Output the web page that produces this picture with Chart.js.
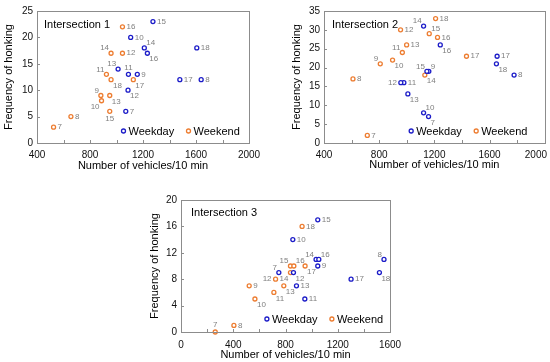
<!DOCTYPE html>
<html>
<head>
<meta charset="utf-8">
<script src="https://cdn.jsdelivr.net/npm/chart.js@4.4.1/dist/chart.umd.min.js"></script>
<style>
  body { margin: 0; background: #fff; width: 550px; height: 362px; position: relative; overflow: hidden; }
  canvas { position: absolute; }
</style>
</head>
<body>
<canvas id="c1" width="275" height="180" style="left:0;top:0"></canvas>
<canvas id="c2" width="275" height="180" style="left:275px;top:0"></canvas>
<canvas id="c3" width="290" height="182" style="left:130px;top:180px"></canvas>
<script>
// hour of day for every point (used as point labels)
const hours = [7, 8, 9, 10, 11, 12, 13, 14, 15, 16, 17, 18];

// Intersection 1
const int1WeekdayVehicles = [1070, 1639, 1157, 1107, 1090, 1087, 1012, 1210, 1275, 1233, 1478, 1606];
const int1WeekdayHonks    = [6, 12, 13, 20, 13, 10, 14, 18, 23, 17, 12, 18];
const int1WeekendVehicles = [525, 656, 882, 887, 924, 1045, 949, 959, 949, 1045, 1127, 959];
const int1WeekendHonks    = [3, 5, 9, 8, 13, 17, 9, 17, 6, 22, 12, 12];

// Intersection 2
const int2WeekdayVehicles = [1158, 1778, 1160, 1122, 979, 957, 1008, 1122, 1146, 1243, 1655, 1650];
const int2WeekdayHonks    = [7, 18, 19, 8, 16, 16, 13, 31, 19, 26, 23, 21];
const int2WeekendVehicles = [714, 610, 808, 897, 968, 955, 999, 1131, 1163, 1223, 1433, 1209];
const int2WeekendHonks    = [2, 17, 21, 22, 24, 30, 26, 18, 29, 28, 23, 33];

// Intersection 3
const int3WeekdayVehicles = [749, 1554, 1047, 856, 948, 861, 884, 1034, 1047, 1055, 1302, 1519];
const int3WeekdayHonks    = [9, 11, 10, 14, 5, 9, 7, 11, 17, 11, 8, 9];
const int3WeekendVehicles = [262, 405, 522, 566, 711, 724, 787, 838, 838, 864, 950, 927];
const int3WeekendHonks    = [0, 1, 7, 5, 6, 8, 7, 9, 10, 10, 10, 16];

// where each hour label sits relative to its marker
const int1WeekdayLabelAt = ['r','r','r','r','t','br','tl','tr','r','br','r','r'];
const int1WeekendLabelAt = ['r','r','tl','bl','tl','r','br','tl','b','r','br','br'];
const int2WeekdayLabelAt = ['br','r','tr','tr','r','l','br','tl','tl','br','r','br'];
const int2WeekendLabelAt = ['r','r','tl','br','tl','r','r','br','tr','r','r','r'];
const int3WeekdayLabelAt = ['tl','tl','r','r','r','br','r','tl','r','tr','r','br'];
const int3WeekendLabelAt = ['t','r','r','br','br','l','br','bl','tl','tr','br','r'];

const BLUE = '#1c1cc8';
const ORANGE = '#ed7d31';
const FRAME = '#8c8c8c';
const FONT = 'Liberation Sans, Arial, sans-serif';

function pts(xs, ys) {
  return xs.map((x, i) => ({ x: x, y: ys[i] }));
}

const panelPlugin = {
  id: 'panelBits',
  afterDatasetsDraw(chart) {
    const ctx = chart.ctx;
    const p = chart.options.plugins.panelBits;
    const a = chart.chartArea;
    const xs = chart.scales.x, ys = chart.scales.y;
    ctx.save();
    // frame
    ctx.strokeStyle = FRAME;
    ctx.lineWidth = 1;
    ctx.strokeRect(Math.round(a.left) + 0.5, Math.round(a.top) + 0.5,
      Math.round(a.right - a.left), Math.round(a.bottom - a.top));
    // inward tick marks
    ctx.beginPath();
    for (let v = p.xMin + p.xMinor; v < p.xMax; v += p.xMinor) {
      const px = Math.round(xs.getPixelForValue(v)) + 0.5;
      ctx.moveTo(px, a.bottom);
      ctx.lineTo(px, a.bottom - 3);
    }
    for (let v = p.yStep; v < p.yMax; v += p.yStep) {
      const py = Math.round(ys.getPixelForValue(v)) + 0.5;
      ctx.moveTo(a.left, py);
      ctx.lineTo(a.left + 3, py);
    }
    ctx.stroke();

    // last x label pulled inside the canvas when it would be cut off
    ctx.textBaseline = 'middle';
    if (p.lastLabelInside) {
      ctx.fillStyle = '#111';
      ctx.font = '10px ' + FONT;
      ctx.textAlign = 'right';
      ctx.fillText(String(p.xMax), chart.width - 3, a.bottom + p.xTickPad + 6);
    }

    // hour labels
    ctx.fillStyle = '#7f7f7f';
    ctx.font = '8px ' + FONT;
    chart.data.datasets.forEach((ds, di) => {
      const meta = chart.getDatasetMeta(di);
      meta.data.forEach((el, i) => {
        const where = ds.labelAt[i];
        let dx = 4, dy = 0, align = 'left';
        if (where === 'l') { dx = -4; align = 'right'; }
        if (where === 't') { dx = 0; dy = -7; align = 'center'; }
        if (where === 'b') { dx = 0; dy = 7; align = 'center'; }
        if (where === 'tl') { dx = -2; dy = -5; align = 'right'; }
        if (where === 'tr') { dx = 2; dy = -5; align = 'left'; }
        if (where === 'bl') { dx = -2; dy = 6; align = 'right'; }
        if (where === 'br') { dx = 2; dy = 6; align = 'left'; }
        ctx.textAlign = align;
        ctx.fillText(String(hours[i]), el.x + dx, el.y + dy);
      });
    });

    // panel title
    ctx.fillStyle = '#000';
    ctx.font = '11px ' + FONT;
    ctx.textAlign = 'left';
    ctx.fillText(p.title, a.left + p.titleDx, a.top + p.titleDy);

    // legend inside the plot
    const lx = a.left + p.legendFrac * (a.right - a.left);
    const ly = a.bottom - p.legendUp;
    [['Weekday', BLUE], ['Weekend', ORANGE]].forEach((item, k) => {
      const mx = lx + k * 65;
      ctx.beginPath();
      ctx.arc(mx, ly, 2, 0, Math.PI * 2);
      ctx.fillStyle = '#fff';
      ctx.fill();
      ctx.lineWidth = 1.3;
      ctx.strokeStyle = item[1];
      ctx.stroke();
      ctx.fillStyle = '#000';
      ctx.fillText(item[0], mx + 5, ly + 0.5);
    });
    ctx.restore();
  }
};

function makePanel(id, p) {
  const ctx = document.getElementById(id).getContext('2d');
  return new Chart(ctx, {
    type: 'scatter',
    data: {
      datasets: [
        {
          label: 'Weekday',
          data: pts(p.wdX, p.wdY),
          labelAt: p.wdAt,
          borderColor: BLUE,
          backgroundColor: '#fff',
          pointRadius: 2,
          pointBorderWidth: 1.3
        },
        {
          label: 'Weekend',
          data: pts(p.weX, p.weY),
          labelAt: p.weAt,
          borderColor: ORANGE,
          backgroundColor: '#fff',
          pointRadius: 2,
          pointBorderWidth: 1.3
        }
      ]
    },
    options: {
      responsive: false,
      animation: false,
      clip: false,
      layout: { padding: { top: p.padTop, right: p.padRight, left: 0, bottom: 0 } },
      plugins: {
        legend: { display: false },
        tooltip: { enabled: false },
        panelBits: p
      },
      scales: {
        x: {
          type: 'linear',
          min: p.xMin,
          max: p.xMax,
          afterFit: (s) => { s.height = p.xAxisH; s.paddingLeft = 0; s.paddingRight = 0; },
          grid: { display: false, drawTicks: false },
          border: { display: false },
          ticks: {
            stepSize: p.xStep, padding: p.xTickPad, color: '#111',
            font: { family: FONT, size: 10 }, maxRotation: 0,
            callback: (v) => (p.lastLabelInside && v === p.xMax) ? '' : String(v)
          },
          title: {
            display: true,
            text: 'Number of vehicles/10 min',
            color: '#000',
            font: { family: FONT, size: 11 },
            padding: { top: 0, bottom: p.xTitlePad }
          }
        },
        y: {
          type: 'linear',
          min: 0,
          max: p.yMax,
          afterFit: (s) => { s.width = p.yAxisW; s.paddingTop = 0; s.paddingBottom = 0; },
          grid: { display: false, drawTicks: false },
          border: { display: false },
          ticks: { stepSize: p.yStep, padding: 4, color: '#111', font: { family: FONT, size: 10 } },
          title: {
            display: true,
            text: 'Frequency of honking',
            color: '#000',
            font: { family: FONT, size: 11 },
            padding: { top: p.yTitlePad, bottom: 0 }
          }
        }
      }
    },
    plugins: [panelPlugin]
  });
}

makePanel('c1', {
  wdX: int1WeekdayVehicles, wdY: int1WeekdayHonks, wdAt: int1WeekdayLabelAt,
  weX: int1WeekendVehicles, weY: int1WeekendHonks, weAt: int1WeekendLabelAt,
  title: 'Intersection 1',
  xMin: 400, xMax: 2000, xStep: 400, xMinor: 200, yMax: 25, yStep: 5,
  padTop: 11, padRight: 26, xAxisH: 37, yAxisW: 37,
  xTickPad: 6, xTitlePad: 7, yTitlePad: 2,
  titleDx: 7, titleDy: 14, legendFrac: 0.408, legendUp: 12
});

makePanel('c2', {
  wdX: int2WeekdayVehicles, wdY: int2WeekdayHonks, wdAt: int2WeekdayLabelAt,
  weX: int2WeekendVehicles, weY: int2WeekendHonks, weAt: int2WeekendLabelAt,
  title: 'Intersection 2',
  xMin: 400, xMax: 2000, xStep: 400, xMinor: 200, yMax: 35, yStep: 5,
  padTop: 11, padRight: 5, xAxisH: 37, yAxisW: 49,
  xTickPad: 6, xTitlePad: 8, yTitlePad: 15,
  titleDx: 8, titleDy: 14, legendFrac: 0.395, legendUp: 12,
  lastLabelInside: true
});

makePanel('c3', {
  wdX: int3WeekdayVehicles, wdY: int3WeekdayHonks, wdAt: int3WeekdayLabelAt,
  weX: int3WeekendVehicles, weY: int3WeekendHonks, weAt: int3WeekendLabelAt,
  title: 'Intersection 3',
  xMin: 0, xMax: 1600, xStep: 400, xMinor: 200, yMax: 20, yStep: 4,
  padTop: 20, padRight: 30, xAxisH: 30, yAxisW: 51,
  xTickPad: 7, xTitlePad: 0, yTitlePad: 18,
  titleDx: 10, titleDy: 13, legendFrac: 0.411, legendUp: 13
});
</script>
</body>
</html>
